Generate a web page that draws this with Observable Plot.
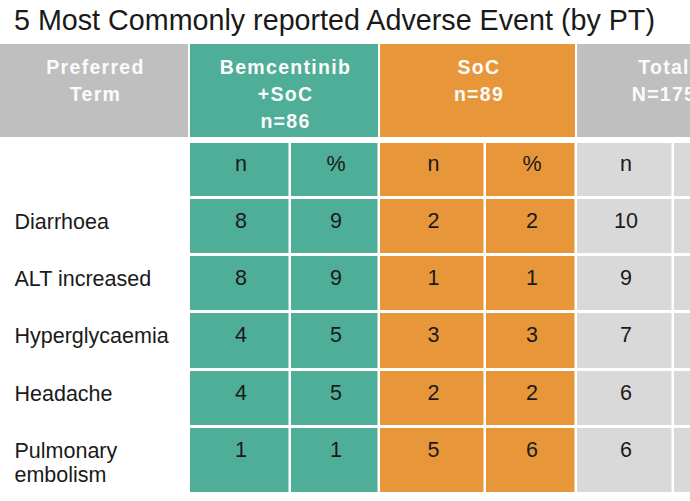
<!DOCTYPE html>
<html>
<head>
<meta charset="utf-8">
<script src="https://cdn.jsdelivr.net/npm/d3@7"></script>
<script src="https://cdn.jsdelivr.net/npm/@observablehq/plot@0.6"></script>
<style>
  body { margin: 0; background: #ffffff; font-family: "Liberation Sans", Arial, sans-serif; }
  #wrap { width: 690px; height: 501px; overflow: hidden; background: #ffffff; }
  #title { height: 40px; line-height: 40px; padding-left: 14px; font-size: 28.7px; color: #1a1a1a; white-space: nowrap; }
  #chart { width: 690px; overflow: hidden; }
</style>
</head>
<body>
<div id="wrap">
  <div id="title">5 Most Commonly reported Adverse Event (by PT)</div>
  <div id="chart"></div>
</div>
<script>
// ---------- data ----------
const terms = ["Diarrhoea", "ALT increased", "Hyperglycaemia", "Headache", "Pulmonary\nembolism"];
const bemN   = [8, 8, 4, 4, 1];
const bemPct = [9, 9, 5, 5, 1];
const socN   = [2, 1, 3, 2, 5];
const socPct = [2, 1, 3, 2, 6];
const totN   = [10, 9, 7, 6, 6];
const groupLabels = ["Preferred\nTerm", "Bemcentinib\n+SoC\nn=86", "SoC\nn=89", "Total\nN=175"];
const subLabels = ["n", "%", "n", "%", "n"]; // the last "%" column is cut off in the source

// ---------- layout (not data) ----------
const colWidths = [190, 101, 89, 106, 91, 97, 76];
const rowHeights = [99, 56, 57, 57, 58, 57, 67]; // header, sub-header, 5 terms
const groupSpans = [[0, 1], [1, 3], [3, 5], [5, 7]];
const headColors = ["#bfbfbf", "#4fae97", "#e8963a", "#bfbfbf"];
const bodyColors = {bem: "#4fae97", soc: "#e8963a", tot: "#d9d9d9"};

const colEdges = [0, ...d3.cumsum(colWidths)];
const rowEdges = [0, ...d3.cumsum(rowHeights)];
const W = colEdges[colEdges.length - 1];
const H = rowEdges[rowEdges.length - 1];

const valueCols = [
  {group: "bem", values: bemN},
  {group: "bem", values: bemPct},
  {group: "soc", values: socN},
  {group: "soc", values: socPct},
  {group: "tot", values: totN},
  {group: "tot", values: null}
];

const headCells = groupLabels.map((label, i) => ({
  label,
  x1: colEdges[groupSpans[i][0]],
  x2: colEdges[groupSpans[i][1]],
  y1: rowEdges[0],
  y2: rowEdges[1],
  fill: headColors[i]
}));

const cells = [];
valueCols.forEach((col, j) => {
  const c = j + 1;
  cells.push({x1: colEdges[c], x2: colEdges[c + 1], y1: rowEdges[1], y2: rowEdges[2],
              fill: bodyColors[col.group], text: subLabels[j] || "", row: "sub"});
  terms.forEach((t, i) => {
    cells.push({x1: colEdges[c], x2: colEdges[c + 1], y1: rowEdges[i + 2], y2: rowEdges[i + 3],
                fill: bodyColors[col.group], text: col.values ? String(col.values[i]) : "", row: "body"});
  });
});

const termCells = terms.map((t, i) => ({label: t, x: colEdges[0], y: rowEdges[i + 2]}));

const chart = Plot.plot({
  width: 690,
  height: 461,
  margin: 0,
  style: {fontFamily: "'Liberation Sans', Arial, sans-serif", background: "#ffffff", overflow: "hidden"},
  x: {type: "linear", domain: [0, W], range: [0, W], axis: null},
  y: {type: "linear", domain: [0, H], range: [4, 4 + H], axis: null},
  color: {type: "identity"},
  marks: [
    Plot.rect(headCells, {x1: "x1", x2: "x2", y1: "y1", y2: "y2", fill: "fill", insetRight: 2, insetBottom: 6}),
    Plot.rect(cells, {x1: "x1", x2: "x2", y1: "y1", y2: "y2", fill: "fill", insetRight: 2.5, insetBottom: 3}),
    Plot.text(headCells, {
      x: d => (d.x1 + d.x2) / 2,
      y: "y1",
      text: "label",
      fill: "#fbfbfb",
      fontSize: 19.5,
      fontWeight: "bold",
      lineAnchor: "top",
      lineHeight: 1.37,
      dy: 11
    }),
    Plot.text(cells.filter(d => d.row === "sub" && d.text), {
      x: d => (d.x1 + d.x2) / 2, y: "y1", text: "text",
      fill: "#1a1a1a", fontSize: 21.5, lineAnchor: "top", dy: 12
    }),
    Plot.text(cells.filter(d => d.row === "body" && d.text), {
      x: d => (d.x1 + d.x2) / 2, y: "y1", text: "text",
      fill: "#1a1a1a", fontSize: 21.5, lineAnchor: "top", dy: 13.7
    }),
    Plot.text(termCells, {
      x: "x", y: "y", text: "label", textAnchor: "start", dx: 14,
      fill: "#1a1a1a", fontSize: 21.5, lineAnchor: "top", lineHeight: 1.16, dy: 11.3
    })
  ]
});
d3.select(chart).selectAll("g").filter(function() {
  return (this.getAttribute("fill") || "").toLowerCase() === "#fbfbfb";
}).attr("letter-spacing", "1.3").style("letter-spacing", "1.3px");
document.getElementById("chart").appendChild(chart);
</script>
</body>
</html>
